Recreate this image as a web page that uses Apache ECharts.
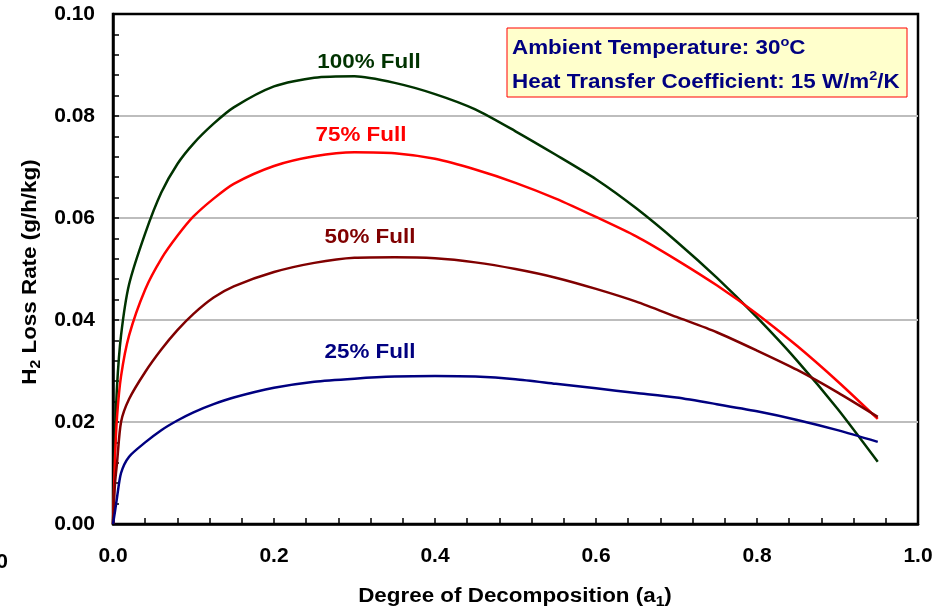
<!DOCTYPE html>
<html><head><meta charset="utf-8">
<script src="https://cdn.jsdelivr.net/npm/echarts@6/dist/echarts.min.js"></script>
<style>html,body{margin:0;padding:0;background:#fff}#c{width:944px;height:610px}</style>
</head><body><div id="c"></div>
<script>
// Degree of decomposition (x values shared by all curves)
const decomposition = [0, 0.0025, 0.005, 0.01, 0.02, 0.04, 0.06, 0.08, 0.1, 0.125, 0.15, 0.2, 0.25, 0.3, 0.35, 0.4, 0.45, 0.5, 0.55, 0.6, 0.65, 0.7, 0.75, 0.8, 0.85, 0.9, 0.95];
// H2 loss rate (g/h/kg)
const full100 = [0, 0.016, 0.027, 0.037, 0.047, 0.057, 0.065, 0.0706, 0.0746, 0.0785, 0.0817, 0.0858, 0.0875, 0.0878, 0.0865, 0.0843, 0.0813, 0.0770, 0.0724, 0.0676, 0.0619, 0.0554, 0.0483, 0.0405, 0.0320, 0.0226, 0.0122];
const full75  = [0, 0.013, 0.021, 0.029, 0.037, 0.046, 0.052, 0.0565, 0.0603, 0.0638, 0.0667, 0.0702, 0.0721, 0.0729, 0.0727, 0.0716, 0.0695, 0.0669, 0.0638, 0.0602, 0.0564, 0.0518, 0.0468, 0.0412, 0.0349, 0.0280, 0.0206];
const full50  = [0, 0.008, 0.012, 0.0200, 0.0245, 0.0298, 0.0342, 0.0380, 0.0412, 0.0444, 0.0466, 0.0494, 0.0512, 0.0522, 0.0523, 0.0521, 0.0513, 0.0500, 0.0483, 0.0461, 0.0436, 0.0406, 0.0376, 0.0340, 0.0302, 0.0258, 0.0210];
const full25  = [0, 0.0025, 0.0052, 0.0100, 0.0132, 0.0160, 0.0184, 0.0203, 0.0219, 0.0235, 0.0248, 0.0267, 0.0279, 0.0285, 0.0289, 0.0290, 0.0289, 0.0284, 0.0275, 0.0266, 0.0257, 0.0248, 0.0235, 0.0221, 0.0204, 0.0184, 0.0161];
const seriesNames = ['100% Full', '75% Full', '50% Full', '25% Full'];
const seriesColors = ['#003300', '#ff0000', '#800000', '#000080'];
const seriesValues = [full100, full75, full50, full25];

const FONT = 'Liberation Sans, Arial, sans-serif';
const SX = 1.12;
const chart = echarts.init(document.getElementById('c'));

const series = seriesValues.map((vals, k) => ({
  name: seriesNames[k],
  type: 'line',
  showSymbol: false,
  smooth: 0.25,
  lineStyle: { color: seriesColors[k], width: 2.5 },
  itemStyle: { color: seriesColors[k] },
  data: decomposition.map((x, i) => [x, vals[i]]),
  z: 5
}));

const labelFont = { fontFamily: FONT, fontWeight: 'bold', fontSize: 21 };

function seriesLabel(k, x, y) {
  return { type: 'text', x: x, y: y, scaleX: SX, z: 11, style: { text: seriesNames[k], fill: seriesColors[k], font: 'bold 20px ' + FONT, align: 'center', verticalAlign: 'middle' } };
}

chart.setOption({
  animation: false,
  backgroundColor: '#fff',
  grid: { left: 113, right: 26, top: 14, bottom: 86, show: true, borderColor: '#000', borderWidth: 2.5, backgroundColor: '#fff' },
  xAxis: {
    type: 'value', min: 0, max: 1, interval: 0.2,
    axisLine: { show: true, lineStyle: { color: '#000', width: 2.5 } },
    axisTick: { show: true, inside: true, length: 6, lineStyle: { color: '#000', width: 1.5 } },
    minorTick: { show: true, splitNumber: 5, length: 6, lineStyle: { color: '#000', width: 1.5 } },
    splitLine: { show: false },
    axisLabel: Object.assign({ color: '#000', margin: 22, formatter: v => v.toFixed(1) }, labelFont)
  },
  yAxis: {
    type: 'value', min: 0, max: 0.1, interval: 0.02,
    axisLine: { show: true, lineStyle: { color: '#000', width: 2.5 } },
    axisTick: { show: true, inside: true, length: 6, lineStyle: { color: '#000', width: 1.5 } },
    minorTick: { show: true, splitNumber: 5, length: 6, lineStyle: { color: '#000', width: 1.5 } },
    splitLine: { show: true, showMinLine: false, showMaxLine: false, lineStyle: { color: '#bdbdbd', width: 2 } },
    axisLabel: Object.assign({ color: '#000', margin: 18, formatter: v => v.toFixed(2) }, labelFont)
  },
  series: series,
  graphic: [
    { type: 'rect', shape: { x: 507, y: 28, width: 400, height: 69 }, style: { fill: '#ffffcc', stroke: '#ff0000', lineWidth: 1 }, z: 10 },
    { type: 'text', x: 512, y: 48, scaleX: SX, z: 11, style: {
      text: '{a|Ambient Temperature: 30}{s|o}{a|C}', verticalAlign: 'middle', align: 'left',
      rich: { a: { fontFamily: FONT, fontWeight: 'bold', fontSize: 20, fill: '#000080', lineHeight: 24 },
              s: { fontFamily: FONT, fontWeight: 'bold', fontSize: 13, fill: '#000080', lineHeight: 13, verticalAlign: 'top' } } } },
    { type: 'text', x: 512, y: 82, scaleX: SX, z: 11, style: {
      text: '{a|Heat Transfer Coefficient: 15 W/m}{s|2}{a|/K}', verticalAlign: 'middle', align: 'left',
      rich: { a: { fontFamily: FONT, fontWeight: 'bold', fontSize: 20, fill: '#000080', lineHeight: 24 },
              s: { fontFamily: FONT, fontWeight: 'bold', fontSize: 13, fill: '#000080', lineHeight: 13, verticalAlign: 'top' } } } },
    seriesLabel(0, 369, 62),
    seriesLabel(1, 361, 135),
    seriesLabel(2, 370, 237),
    seriesLabel(3, 370, 352),
    { type: 'text', x: 515, y: 596, scaleX: SX, z: 11, style: {
      text: '{a|Degree of Decomposition (a}{s|1}{a|)}', align: 'center', verticalAlign: 'middle',
      rich: { a: { fontFamily: FONT, fontWeight: 'bold', fontSize: 20, fill: '#000', lineHeight: 26 },
              s: { fontFamily: FONT, fontWeight: 'bold', fontSize: 14, fill: '#000', lineHeight: 14, verticalAlign: 'bottom' } } } },
    { type: 'text', x: 30, y: 272, rotation: Math.PI / 2, scaleX: SX, z: 11, style: {
      text: '{a|H}{s|2}{a| Loss Rate (g/h/kg)}', align: 'center', verticalAlign: 'middle',
      rich: { a: { fontFamily: FONT, fontWeight: 'bold', fontSize: 20, fill: '#000', lineHeight: 26 },
              s: { fontFamily: FONT, fontWeight: 'bold', fontSize: 14, fill: '#000', lineHeight: 14, verticalAlign: 'bottom' } } } },
    { type: 'text', x: 8, y: 562, z: 11, style: { text: '0', fill: '#000', font: 'bold 21px ' + FONT, align: 'right', verticalAlign: 'middle' } }
  ]
});
</script>
</body></html>
